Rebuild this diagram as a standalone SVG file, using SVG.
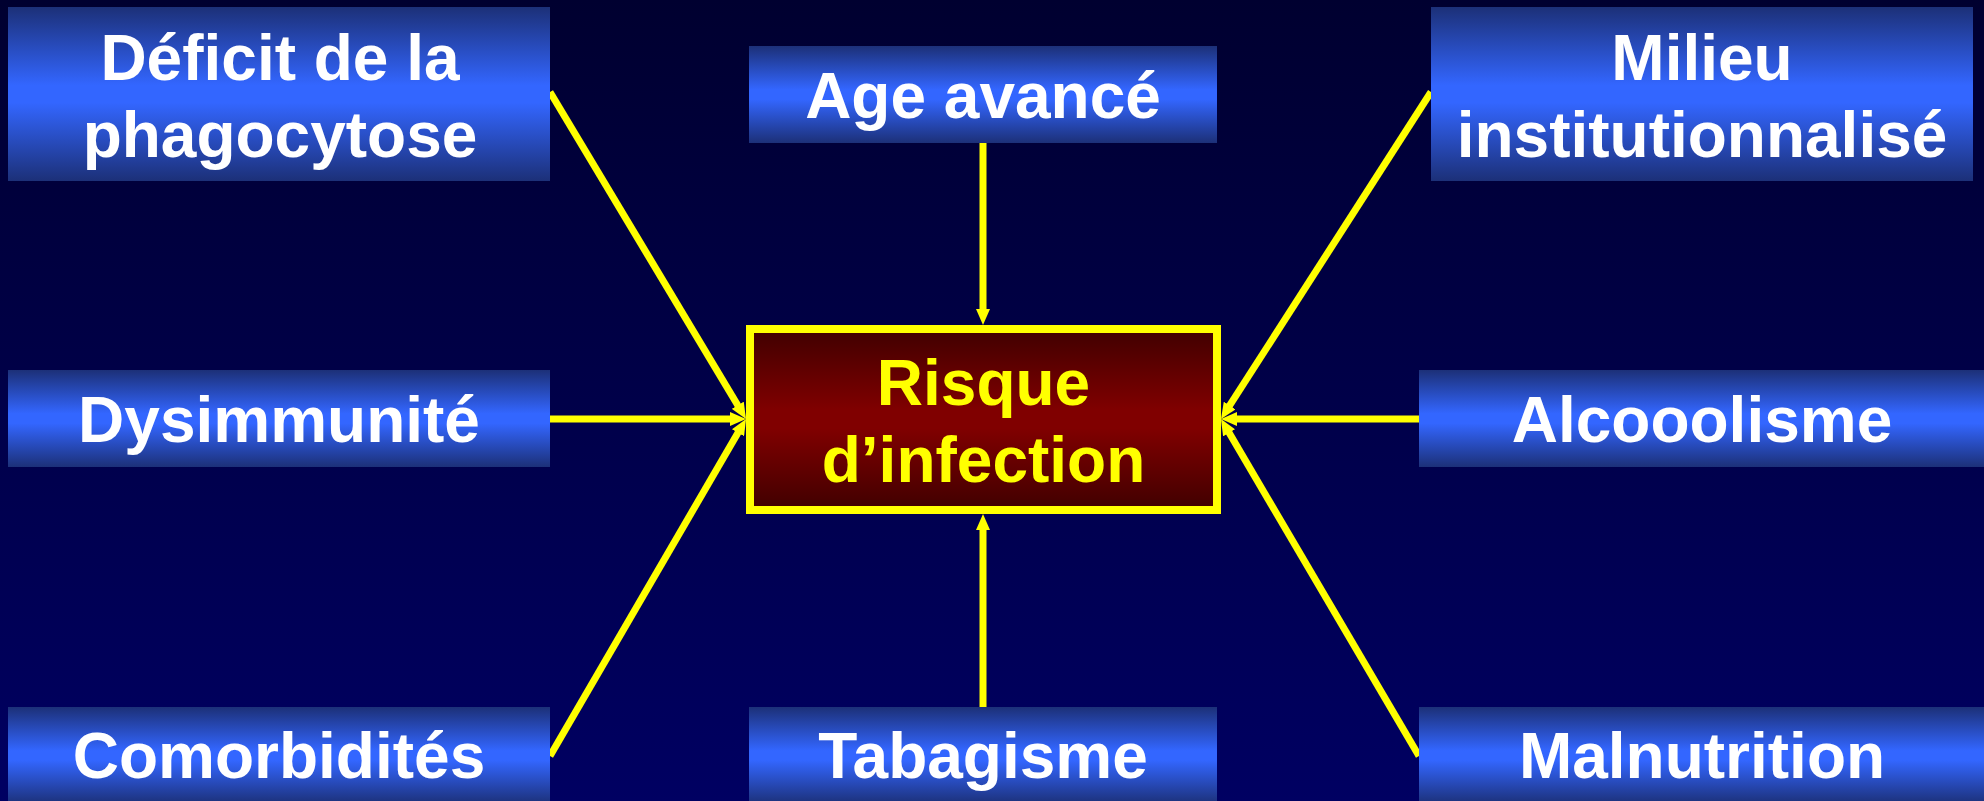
<svg xmlns="http://www.w3.org/2000/svg" width="1984" height="801" viewBox="0 0 1984 801">
  <defs>
    <linearGradient id="bg" x1="0" y1="0" x2="0" y2="1">
      <stop offset="0" stop-color="#000030"/>
      <stop offset="1" stop-color="#000062"/>
    </linearGradient>
    <linearGradient id="blue" x1="0" y1="0" x2="0" y2="1">
      <stop offset="0" stop-color="#1c3078"/>
      <stop offset="0.45" stop-color="#3366ff"/>
      <stop offset="0.55" stop-color="#3366ff"/>
      <stop offset="1" stop-color="#1c3078"/>
    </linearGradient>
    <linearGradient id="red" x1="0" y1="0" x2="0" y2="1">
      <stop offset="0" stop-color="#400000"/>
      <stop offset="0.45" stop-color="#800000"/>
      <stop offset="0.55" stop-color="#800000"/>
      <stop offset="1" stop-color="#400000"/>
    </linearGradient>
    <marker id="ah" markerWidth="16" markerHeight="14" refX="2" refY="7" orient="auto" markerUnits="userSpaceOnUse">
      <path d="M0,0 L16,7 L0,14 z" fill="#ffff00"/>
    </marker>
  </defs>
  <style>
    .box { fill: url(#blue); }
    .lbl { font-family: "Liberation Sans", Arial, sans-serif; font-weight: bold; font-size: 64px; fill: #ffffff; text-anchor: middle; }
    .ctr { fill: #ffff00; }
    .conn { stroke: #ffff00; stroke-width: 7; fill: none; marker-end: url(#ah); }
  </style>
  <rect x="0" y="0" width="1984" height="801" fill="url(#bg)"/>

  <g id="connectors">
    <line class="conn" x1="550" y1="92" x2="738.8" y2="407"/>
    <line class="conn" x1="550" y1="419" x2="732" y2="419"/>
    <line class="conn" x1="550" y1="756" x2="739" y2="431"/>
    <line class="conn" x1="1431" y1="92" x2="1228.6" y2="407.2"/>
    <line class="conn" x1="1419" y1="419" x2="1235" y2="419"/>
    <line class="conn" x1="1419" y1="756" x2="1228.1" y2="431.1"/>
    <line class="conn" x1="983" y1="143" x2="983" y2="311"/>
    <line class="conn" x1="983" y1="707" x2="983" y2="528"/>
  </g>

  <g id="deficit">
    <rect class="box" x="8" y="7" width="542" height="174"/>
    <text class="lbl" x="280" y="80">Déficit de la</text>
    <text class="lbl" x="280" y="157">phagocytose</text>
  </g>
  <g id="age">
    <rect class="box" x="749" y="46" width="468" height="97"/>
    <text class="lbl" x="983" y="118">Age avancé</text>
  </g>
  <g id="milieu">
    <rect class="box" x="1431" y="7" width="542" height="174"/>
    <text class="lbl" x="1702" y="80">Milieu</text>
    <text class="lbl" x="1702" y="157">institutionnalisé</text>
  </g>
  <g id="dysimmunite">
    <rect class="box" x="8" y="370" width="542" height="97"/>
    <text class="lbl" x="279" y="442">Dysimmunité</text>
  </g>
  <g id="alcoolisme">
    <rect class="box" x="1419" y="370" width="565" height="97"/>
    <text class="lbl" x="1702" y="442">Alcooolisme</text>
  </g>
  <g id="comorbidites">
    <rect class="box" x="8" y="707" width="542" height="97"/>
    <text class="lbl" x="279" y="778">Comorbidités</text>
  </g>
  <g id="tabagisme">
    <rect class="box" x="749" y="707" width="468" height="97"/>
    <text class="lbl" x="983" y="778">Tabagisme</text>
  </g>
  <g id="malnutrition">
    <rect class="box" x="1419" y="707" width="565" height="97"/>
    <text class="lbl" x="1702" y="778">Malnutrition</text>
  </g>
  <g id="risque">
    <rect x="750" y="329" width="467" height="181" fill="url(#red)" stroke="#ffff00" stroke-width="8"/>
    <text class="lbl ctr" x="983.5" y="405">Risque</text>
    <text class="lbl ctr" x="983.5" y="482">d’infection</text>
  </g>
</svg>
